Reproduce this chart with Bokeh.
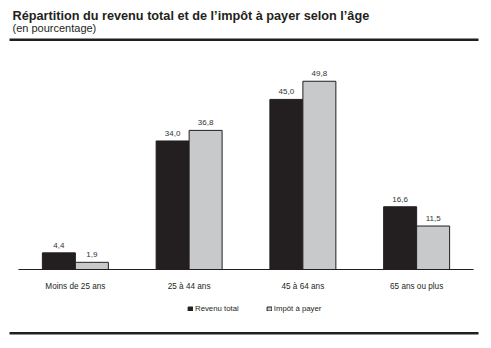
from bokeh.plotting import figure
from bokeh.models import FactorRange, Range1d, ColumnDataSource, Label, BoxAnnotation, Legend, LegendItem
from bokeh.transform import dodge
from bokeh.core.properties import value
from bokeh.embed import file_html
from bokeh.resources import INLINE

categories = ["Moins de 25 ans", "25 à 44 ans", "45 à 64 ans", "65 ans ou plus"]
revenu_total = [4.4, 34.0, 45.0, 16.6]
impot_a_payer = [1.9, 36.8, 49.8, 11.5]
series_names = ["Revenu total", "Impôt à payer"]
title_text = "Répartition du revenu total et de l’impôt à payer selon l’âge"
subtitle_text = "(en pourcentage)"

W, H = 491, 348
FONT = "Liberation Sans"
DARK = "#231f20"
GRAY = "#c8c9cb"

def fmt(v):
    return f"{v:.1f}".replace(".", ",")

src = ColumnDataSource(dict(
    cat=categories,
    rev=revenu_total,
    imp=impot_a_payer,
    rev_lbl=[fmt(v) for v in revenu_total],
    imp_lbl=[fmt(v) for v in impot_a_payer],
))

# pixel layout: plot area from x=18 to 473, baseline at y=269 (from top), 3.78 px per unit
px_per_unit = 3.78
base_from_bottom = H - 269
x_range = FactorRange(factors=categories, range_padding=18 / 113.75, range_padding_units="absolute")
y_range = Range1d(start=-base_from_bottom / px_per_unit, end=(H - base_from_bottom) / px_per_unit)

p = figure(width=W, height=H, x_range=x_range, y_range=y_range,
           output_backend="svg", toolbar_location=None,
           x_axis_location=None, y_axis_location=None,
           min_border=0, min_border_left=0, min_border_right=0,
           min_border_top=0, min_border_bottom=0)
p.outline_line_color = None
p.xgrid.visible = False
p.ygrid.visible = False
p.background_fill_color = "white"
p.border_fill_color = "white"

off = 0.145
bw = 0.29
r1 = p.vbar(x=dodge("cat", -off, range=p.x_range), top="rev", bottom=0, width=bw, source=src,
            fill_color=DARK, line_color=DARK, line_width=1)
r2 = p.vbar(x=dodge("cat", off, range=p.x_range), top="imp", bottom=0, width=bw, source=src,
            fill_color=GRAY, line_color=DARK, line_width=1)

# baseline
p.segment(x0=[0], x1=[len(categories)], y0=[0], y1=[0], line_color=DARK, line_width=1.2)

# value labels
for key, lbl, d in (("rev", "rev_lbl", -off), ("imp", "imp_lbl", off)):
    p.text(x=dodge("cat", d, range=p.x_range), y=key, text=lbl, source=src,
           y_offset=-7.5, text_align="center", text_baseline="alphabetic",
           text_font=value(FONT), text_font_size="8px", text_color="#333333")

# category labels
p.text(x="cat", y=0, text="cat", source=src, y_offset=16.5,
       text_align="center", text_baseline="alphabetic",
       text_font=value(FONT), text_font_size="8.2px", text_color=DARK)

# title and subtitle
p.add_layout(Label(x=12, y=H - 15, x_units="screen", y_units="screen", text=title_text,
                   text_font=FONT, text_font_size="12.7px", text_font_style="bold",
                   text_color=DARK, text_align="left", text_baseline="alphabetic"))
p.add_layout(Label(x=12, y=H - 27, x_units="screen", y_units="screen", text=subtitle_text,
                   text_font=FONT, text_font_size="11px",
                   text_color=DARK, text_align="left", text_baseline="alphabetic"))

# rules
p.add_layout(BoxAnnotation(left=9, right=478, top=H - 38, bottom=H - 40.5,
                           left_units="screen", right_units="screen", top_units="screen", bottom_units="screen",
                           fill_color=DARK, fill_alpha=1, line_color=None))
p.add_layout(BoxAnnotation(left=9, right=478, top=H - 331.5, bottom=H - 334,
                           left_units="screen", right_units="screen", top_units="screen", bottom_units="screen",
                           fill_color=DARK, fill_alpha=1, line_color=None))

legend = Legend(items=[LegendItem(label=series_names[0], renderers=[r1]),
                       LegendItem(label=series_names[1], renderers=[r2])],
                location=(187, H - 313.5), orientation="horizontal",
                glyph_width=6, glyph_height=5, label_height=10, label_width=0,
                label_standoff=2, spacing=27, padding=0, margin=0,
                border_line_color=None, background_fill_alpha=0,
                label_text_font=FONT, label_text_font_size="7.8px", label_text_color=DARK)
p.add_layout(legend)

open("out.html", "w").write(file_html(p, INLINE))
